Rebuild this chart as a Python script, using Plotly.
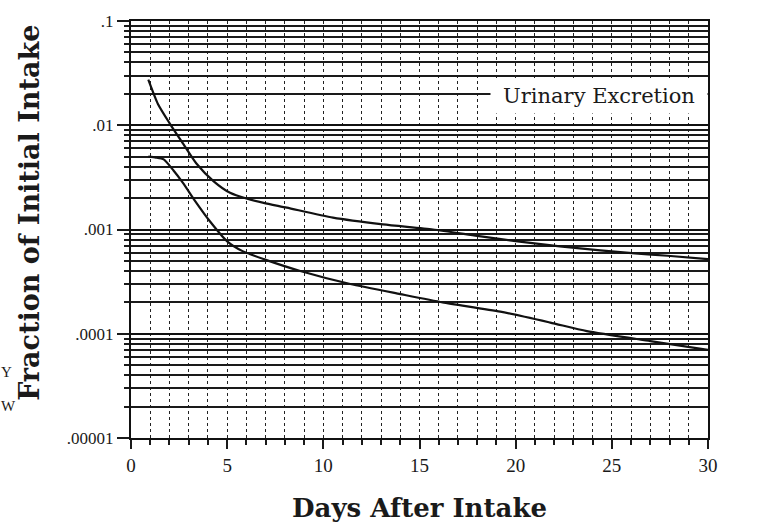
import plotly.graph_objects as go

# Data
days_w = [0.9, 1.4, 2.0, 2.7, 3.4, 4.3, 5.15, 6.0, 6.9, 8.1, 10.5, 13.1, 15.7, 18.0, 20.1, 22.3, 24.4, 26.2, 27.9, 30.0]
frac_w = [0.0274, 0.016, 0.0105, 0.0067, 0.0043, 0.0029, 0.00225, 0.00198, 0.0018, 0.00162, 0.0013, 0.00112, 0.0010, 0.00087, 0.00077, 0.00069, 0.00063, 0.00059, 0.00056, 0.00052]

days_y = [0.9, 1.3, 1.7, 2.2, 2.7, 3.4, 4.1, 5.0, 5.8, 6.9, 8.8, 11.4, 14.0, 16.2, 19.2, 21.8, 23.7, 27.0, 30.0]
frac_y = [0.0050, 0.0049, 0.0047, 0.0037, 0.0028, 0.0018, 0.0012, 0.00077, 0.00062, 0.00052, 0.00040, 0.00030, 0.00024, 0.00020, 0.000163, 0.000128, 0.000106, 0.000085, 0.000070]

y_tickvals = [0.1, 0.01, 0.001, 0.0001, 0.00001]
y_ticktext = [".1", ".01", ".001", ".0001", ".00001"]
x_tickvals = [0, 5, 10, 15, 20, 25, 30]

serif = "DejaVu Serif"
light = "Liberation Serif"
ink = "#1a1a1a"

fig = go.Figure()
fig.add_trace(go.Scatter(x=days_w, y=frac_w, mode="lines",
                         line=dict(color="#111", width=2.2, shape="spline", smoothing=0.6), showlegend=False))
fig.add_trace(go.Scatter(x=days_y, y=frac_y, mode="lines",
                         line=dict(color="#111", width=2.2, shape="spline", smoothing=0.6), showlegend=False))

fig.update_layout(
    width=757, height=532,
    margin=dict(l=131, r=49, t=16, b=94),
    paper_bgcolor="white", plot_bgcolor="white",
    font=dict(family=light, color=ink),
)

fig.update_xaxes(
    range=[0, 30], tickvals=x_tickvals,
    showgrid=True, gridcolor="#222", gridwidth=1.2, griddash="dot",
    ticks="outside", ticklen=9, tickwidth=1.5, tickcolor=ink,
    minor=dict(dtick=1, showgrid=True, gridcolor="#222", gridwidth=1.2, griddash="dot",
               ticks="outside", ticklen=5, tickcolor=ink),
    showline=True, linecolor="#111", linewidth=2, mirror=True,
    tickfont=dict(family=light, size=19, color=ink),
    title=dict(text="Days After Intake", font=dict(family=serif, size=26, color=ink, weight="bold"), standoff=24),
    zeroline=False,
)

fig.update_yaxes(
    type="log", range=[-5, -1], tickvals=y_tickvals, ticktext=y_ticktext,
    showgrid=True, gridcolor="#111", gridwidth=2.2,
    ticks="outside", ticklen=12, tickwidth=1.5, tickcolor=ink,
    minor=dict(dtick="D1", showgrid=True, gridcolor="#1a1a1a", gridwidth=1.5,
               ticks="outside", ticklen=5, tickcolor=ink),
    showline=True, linecolor="#111", linewidth=2, mirror=True,
    tickfont=dict(family=light, size=17, color=ink),
)

# Y-axis title (placed slightly above the plot centre, as in the reference)
fig.add_annotation(xref="paper", yref="paper", x=-0.175, y=0.54, xanchor="center", yanchor="middle",
                   text="Fraction of Initial Intake", textangle=-90, showarrow=False,
                   font=dict(family=serif, size=27, color=ink, weight="bold"))

# Box label
fig.add_annotation(xref="paper", yref="paper", x=1, y=0.82, xanchor="right", yanchor="middle",
                   text="Urinary Excretion", showarrow=False, bgcolor="white",
                   width=214, height=32, align="center",
                   font=dict(family=serif, size=21, color=ink))

# Curve labels
fig.add_annotation(x=30, y=0.00051, yref="y", xref="x", xanchor="left", xshift=8, text="W",
                   showarrow=False, font=dict(family=light, size=24, color=ink))
fig.add_annotation(x=30, y=0.000088, yref="y", xref="x", xanchor="left", xshift=11, text="Y",
                   showarrow=False, font=dict(family=light, size=24, color=ink))

# Fragments of the neighbouring panel at the left edge (kept fully visible)
fig.add_annotation(xref="paper", yref="paper", x=-0.227, y=0.159, xanchor="left", yanchor="middle", text="Y",
                   showarrow=False, borderpad=0, font=dict(family=light, size=15, color=ink))
fig.add_annotation(xref="paper", yref="paper", x=-0.227, y=0.076, xanchor="left", yanchor="middle", text="W",
                   showarrow=False, borderpad=0, font=dict(family=light, size=15, color=ink))

fig.write_html("out.html")
